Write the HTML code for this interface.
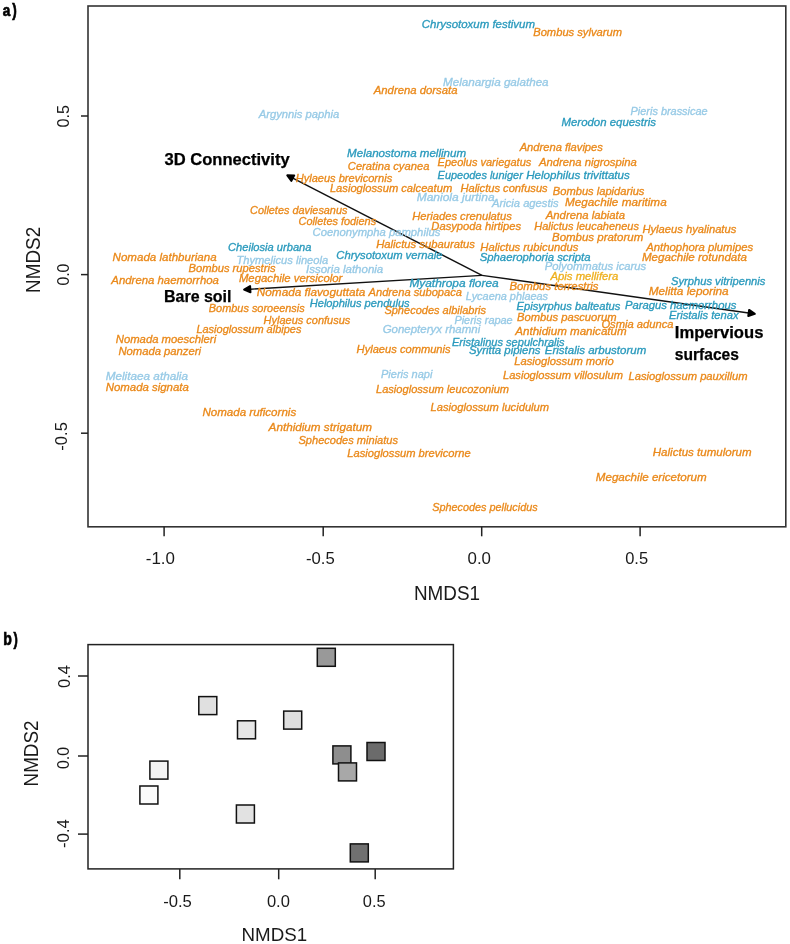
<!DOCTYPE html><html><head><meta charset="utf-8"><style>html,body{margin:0;padding:0;background:#fff}svg{display:block;will-change:transform}text{font-family:"Liberation Sans",sans-serif}</style></head><body>
<svg width="790" height="944" viewBox="0 0 790 944">
<rect width="790" height="944" fill="#fff"/>
<rect x="88" y="6" width="697.8" height="520.8" fill="none" stroke="#333" stroke-width="1.6"/>
<line x1="81" y1="116" x2="88" y2="116" stroke="#222" stroke-width="1.5"/>
<line x1="81" y1="274.6" x2="88" y2="274.6" stroke="#222" stroke-width="1.5"/>
<line x1="81" y1="433.2" x2="88" y2="433.2" stroke="#222" stroke-width="1.5"/>
<line x1="164.1" y1="526.8" x2="164.1" y2="536.3" stroke="#222" stroke-width="1.5"/>
<line x1="323.2" y1="526.8" x2="323.2" y2="536.3" stroke="#222" stroke-width="1.5"/>
<line x1="481.7" y1="526.8" x2="481.7" y2="536.3" stroke="#222" stroke-width="1.5"/>
<line x1="640.1" y1="526.8" x2="640.1" y2="536.3" stroke="#222" stroke-width="1.5"/>
<text x="145.80" y="564.00" font-size="17.3" fill="#1a1a1a" font-weight="normal" font-style="normal" textLength="29.20" lengthAdjust="spacingAndGlyphs">-1.0</text>
<text x="306.00" y="564.00" font-size="17.3" fill="#1a1a1a" font-weight="normal" font-style="normal" textLength="28.80" lengthAdjust="spacingAndGlyphs">-0.5</text>
<text x="467.50" y="564.00" font-size="17.3" fill="#1a1a1a" font-weight="normal" font-style="normal" textLength="23.50" lengthAdjust="spacingAndGlyphs">0.0</text>
<text x="625.20" y="564.00" font-size="17.3" fill="#1a1a1a" font-weight="normal" font-style="normal" textLength="22.90" lengthAdjust="spacingAndGlyphs">0.5</text>
<g transform="translate(68.50,127.50) rotate(-90)"><text x="0.00" y="0.00" font-size="17.3" fill="#1a1a1a" font-weight="normal" font-style="normal" textLength="22.50" lengthAdjust="spacingAndGlyphs">0.5</text></g>
<g transform="translate(68.60,285.60) rotate(-90)"><text x="0.00" y="0.00" font-size="17.3" fill="#1a1a1a" font-weight="normal" font-style="normal" textLength="22.00" lengthAdjust="spacingAndGlyphs">0.0</text></g>
<g transform="translate(67.00,450.70) rotate(-90)"><text x="0.00" y="0.00" font-size="17.3" fill="#1a1a1a" font-weight="normal" font-style="normal" textLength="28.70" lengthAdjust="spacingAndGlyphs">-0.5</text></g>
<text x="413.90" y="600.00" font-size="20.4" fill="#1a1a1a" font-weight="normal" font-style="normal" textLength="66.09" lengthAdjust="spacingAndGlyphs">NMDS1</text>
<g transform="translate(39.50,292.90) rotate(-90)"><text x="0.00" y="0.00" font-size="20.4" fill="#1a1a1a" font-weight="normal" font-style="normal" textLength="66.09" lengthAdjust="spacingAndGlyphs">NMDS2</text></g>
<text x="2.80" y="15.70" font-size="16.2" fill="#000" font-weight="bold" font-style="normal" textLength="7.51" lengthAdjust="spacingAndGlyphs" stroke="#000" stroke-width="0.7">a</text>
<text x="12.20" y="15.70" font-size="17.5" fill="#000" font-weight="bold" font-style="normal" textLength="4.50" lengthAdjust="spacingAndGlyphs" stroke="#000" stroke-width="0.7">)</text>
<line x1="482.0" y1="275.4" x2="292.82" y2="178.16" stroke="#111" stroke-width="1.45"/>
<polygon points="287.30,175.32 294.23,175.40 291.40,180.91" fill="#000" stroke="#000" stroke-width="2.0" stroke-linejoin="round"/>
<line x1="482.0" y1="275.4" x2="250.29" y2="289.22" stroke="#111" stroke-width="1.45"/>
<polygon points="244.10,289.59 250.10,286.13 250.47,292.32" fill="#000" stroke="#000" stroke-width="2.0" stroke-linejoin="round"/>
<line x1="482.0" y1="275.4" x2="748.68" y2="312.98" stroke="#111" stroke-width="1.45"/>
<polygon points="754.82,313.85 748.25,316.05 749.11,309.91" fill="#000" stroke="#000" stroke-width="2.0" stroke-linejoin="round"/>
<text x="421.80" y="27.95" font-size="10.3" fill="#2A9ABD" font-weight="normal" font-style="italic" textLength="113.20" lengthAdjust="spacingAndGlyphs" stroke="#2A9ABD" stroke-width="0.3">Chrysotoxum festivum</text>
<text x="533.20" y="36.45" font-size="10.3" fill="#EA891A" font-weight="normal" font-style="italic" textLength="88.80" lengthAdjust="spacingAndGlyphs" stroke="#EA891A" stroke-width="0.3">Bombus sylvarum</text>
<text x="443.00" y="86.15" font-size="10.3" fill="#97CAE6" font-weight="normal" font-style="italic" textLength="105.60" lengthAdjust="spacingAndGlyphs" stroke="#97CAE6" stroke-width="0.3">Melanargia galathea</text>
<text x="373.77" y="94.45" font-size="10.3" fill="#EA891A" font-weight="normal" font-style="italic" textLength="83.73" lengthAdjust="spacingAndGlyphs" stroke="#EA891A" stroke-width="0.3">Andrena dorsata</text>
<text x="258.76" y="117.95" font-size="10.3" fill="#97CAE6" font-weight="normal" font-style="italic" textLength="80.44" lengthAdjust="spacingAndGlyphs" stroke="#97CAE6" stroke-width="0.3">Argynnis paphia</text>
<text x="630.60" y="114.95" font-size="10.3" fill="#97CAE6" font-weight="normal" font-style="italic" textLength="77.00" lengthAdjust="spacingAndGlyphs" stroke="#97CAE6" stroke-width="0.3">Pieris brassicae</text>
<text x="561.50" y="125.85" font-size="10.3" fill="#2A9ABD" font-weight="normal" font-style="italic" textLength="94.50" lengthAdjust="spacingAndGlyphs" stroke="#2A9ABD" stroke-width="0.3">Merodon equestris</text>
<text x="519.66" y="150.75" font-size="10.3" fill="#EA891A" font-weight="normal" font-style="italic" textLength="83.24" lengthAdjust="spacingAndGlyphs" stroke="#EA891A" stroke-width="0.3">Andrena flavipes</text>
<text x="347.10" y="157.05" font-size="10.3" fill="#2A9ABD" font-weight="normal" font-style="italic" textLength="119.00" lengthAdjust="spacingAndGlyphs" stroke="#2A9ABD" stroke-width="0.3">Melanostoma mellinum</text>
<text x="437.60" y="165.85" font-size="10.3" fill="#EA891A" font-weight="normal" font-style="italic" textLength="93.70" lengthAdjust="spacingAndGlyphs" stroke="#EA891A" stroke-width="0.3">Epeolus variegatus</text>
<text x="538.96" y="165.85" font-size="10.3" fill="#EA891A" font-weight="normal" font-style="italic" textLength="97.84" lengthAdjust="spacingAndGlyphs" stroke="#EA891A" stroke-width="0.3">Andrena nigrospina</text>
<text x="347.80" y="169.65" font-size="10.3" fill="#EA891A" font-weight="normal" font-style="italic" textLength="81.60" lengthAdjust="spacingAndGlyphs" stroke="#EA891A" stroke-width="0.3">Ceratina cyanea</text>
<text x="437.60" y="178.55" font-size="10.3" fill="#2A9ABD" font-weight="normal" font-style="italic" textLength="85.22" lengthAdjust="spacingAndGlyphs" stroke="#2A9ABD" stroke-width="0.3">Eupeodes luniger</text>
<text x="526.20" y="178.55" font-size="10.3" fill="#2A9ABD" font-weight="normal" font-style="italic" textLength="103.60" lengthAdjust="spacingAndGlyphs" stroke="#2A9ABD" stroke-width="0.3">Helophilus trivittatus</text>
<text x="295.70" y="182.35" font-size="10.3" fill="#EA891A" font-weight="normal" font-style="italic" textLength="96.50" lengthAdjust="spacingAndGlyphs" stroke="#EA891A" stroke-width="0.3">Hylaeus brevicornis</text>
<text x="329.90" y="192.45" font-size="10.3" fill="#EA891A" font-weight="normal" font-style="italic" textLength="122.30" lengthAdjust="spacingAndGlyphs" stroke="#EA891A" stroke-width="0.3">Lasioglossum calceatum</text>
<text x="460.40" y="192.45" font-size="10.3" fill="#EA891A" font-weight="normal" font-style="italic" textLength="87.30" lengthAdjust="spacingAndGlyphs" stroke="#EA891A" stroke-width="0.3">Halictus confusus</text>
<text x="552.80" y="194.65" font-size="10.3" fill="#EA891A" font-weight="normal" font-style="italic" textLength="91.60" lengthAdjust="spacingAndGlyphs" stroke="#EA891A" stroke-width="0.3">Bombus lapidarius</text>
<text x="416.70" y="200.55" font-size="10.3" fill="#97CAE6" font-weight="normal" font-style="italic" textLength="77.91" lengthAdjust="spacingAndGlyphs" stroke="#97CAE6" stroke-width="0.3">Maniola jurtina</text>
<text x="492.06" y="207.15" font-size="10.3" fill="#97CAE6" font-weight="normal" font-style="italic" textLength="66.54" lengthAdjust="spacingAndGlyphs" stroke="#97CAE6" stroke-width="0.3">Aricia agestis</text>
<text x="564.90" y="205.75" font-size="10.3" fill="#EA891A" font-weight="normal" font-style="italic" textLength="101.79" lengthAdjust="spacingAndGlyphs" stroke="#EA891A" stroke-width="0.3">Megachile maritima</text>
<text x="250.10" y="214.05" font-size="10.3" fill="#EA891A" font-weight="normal" font-style="italic" textLength="97.30" lengthAdjust="spacingAndGlyphs" stroke="#EA891A" stroke-width="0.3">Colletes daviesanus</text>
<text x="412.20" y="219.55" font-size="10.3" fill="#EA891A" font-weight="normal" font-style="italic" textLength="99.60" lengthAdjust="spacingAndGlyphs" stroke="#EA891A" stroke-width="0.3">Heriades crenulatus</text>
<text x="545.77" y="219.05" font-size="10.3" fill="#EA891A" font-weight="normal" font-style="italic" textLength="79.24" lengthAdjust="spacingAndGlyphs" stroke="#EA891A" stroke-width="0.3">Andrena labiata</text>
<text x="298.50" y="224.95" font-size="10.3" fill="#EA891A" font-weight="normal" font-style="italic" textLength="77.60" lengthAdjust="spacingAndGlyphs" stroke="#EA891A" stroke-width="0.3">Colletes fodiens</text>
<text x="431.30" y="229.65" font-size="10.3" fill="#EA891A" font-weight="normal" font-style="italic" textLength="89.80" lengthAdjust="spacingAndGlyphs" stroke="#EA891A" stroke-width="0.3">Dasypoda hirtipes</text>
<text x="534.30" y="230.15" font-size="10.3" fill="#EA891A" font-weight="normal" font-style="italic" textLength="104.60" lengthAdjust="spacingAndGlyphs" stroke="#EA891A" stroke-width="0.3">Halictus leucaheneus</text>
<text x="642.40" y="232.95" font-size="10.3" fill="#EA891A" font-weight="normal" font-style="italic" textLength="93.90" lengthAdjust="spacingAndGlyphs" stroke="#EA891A" stroke-width="0.3">Hylaeus hyalinatus</text>
<text x="312.60" y="236.45" font-size="10.3" fill="#97CAE6" font-weight="normal" font-style="italic" textLength="127.70" lengthAdjust="spacingAndGlyphs" stroke="#97CAE6" stroke-width="0.3">Coenonympha pamphilus</text>
<text x="552.00" y="240.75" font-size="10.3" fill="#EA891A" font-weight="normal" font-style="italic" textLength="91.20" lengthAdjust="spacingAndGlyphs" stroke="#EA891A" stroke-width="0.3">Bombus pratorum</text>
<text x="228.00" y="251.05" font-size="10.3" fill="#2A9ABD" font-weight="normal" font-style="italic" textLength="83.50" lengthAdjust="spacingAndGlyphs" stroke="#2A9ABD" stroke-width="0.3">Cheilosia urbana</text>
<text x="376.20" y="248.15" font-size="10.3" fill="#EA891A" font-weight="normal" font-style="italic" textLength="98.80" lengthAdjust="spacingAndGlyphs" stroke="#EA891A" stroke-width="0.3">Halictus subauratus</text>
<text x="480.30" y="250.65" font-size="10.3" fill="#EA891A" font-weight="normal" font-style="italic" textLength="98.00" lengthAdjust="spacingAndGlyphs" stroke="#EA891A" stroke-width="0.3">Halictus rubicundus</text>
<text x="646.27" y="250.95" font-size="10.3" fill="#EA891A" font-weight="normal" font-style="italic" textLength="107.03" lengthAdjust="spacingAndGlyphs" stroke="#EA891A" stroke-width="0.3">Anthophora plumipes</text>
<text x="336.30" y="258.65" font-size="10.3" fill="#2A9ABD" font-weight="normal" font-style="italic" textLength="106.20" lengthAdjust="spacingAndGlyphs" stroke="#2A9ABD" stroke-width="0.3">Chrysotoxum vernale</text>
<text x="479.70" y="260.75" font-size="10.3" fill="#2A9ABD" font-weight="normal" font-style="italic" textLength="110.90" lengthAdjust="spacingAndGlyphs" stroke="#2A9ABD" stroke-width="0.3">Sphaerophoria scripta</text>
<text x="641.90" y="261.25" font-size="10.3" fill="#EA891A" font-weight="normal" font-style="italic" textLength="105.10" lengthAdjust="spacingAndGlyphs" stroke="#EA891A" stroke-width="0.3">Megachile rotundata</text>
<text x="112.60" y="261.45" font-size="10.3" fill="#EA891A" font-weight="normal" font-style="italic" textLength="104.00" lengthAdjust="spacingAndGlyphs" stroke="#EA891A" stroke-width="0.3">Nomada lathburiana</text>
<text x="236.40" y="263.55" font-size="10.3" fill="#97CAE6" font-weight="normal" font-style="italic" textLength="91.80" lengthAdjust="spacingAndGlyphs" stroke="#97CAE6" stroke-width="0.3">Thymelicus lineola</text>
<text x="188.50" y="271.55" font-size="10.3" fill="#EA891A" font-weight="normal" font-style="italic" textLength="87.00" lengthAdjust="spacingAndGlyphs" stroke="#EA891A" stroke-width="0.3">Bombus rupestris</text>
<text x="306.00" y="272.85" font-size="10.3" fill="#97CAE6" font-weight="normal" font-style="italic" textLength="77.20" lengthAdjust="spacingAndGlyphs" stroke="#97CAE6" stroke-width="0.3">Issoria lathonia</text>
<text x="544.80" y="270.35" font-size="10.3" fill="#97CAE6" font-weight="normal" font-style="italic" textLength="101.40" lengthAdjust="spacingAndGlyphs" stroke="#97CAE6" stroke-width="0.3">Polyommatus icarus</text>
<text x="550.47" y="279.55" font-size="10.3" fill="#EEB01E" font-weight="normal" font-style="italic" textLength="67.93" lengthAdjust="spacingAndGlyphs" stroke="#EEB01E" stroke-width="0.3">Apis mellifera</text>
<text x="671.00" y="284.75" font-size="10.3" fill="#2A9ABD" font-weight="normal" font-style="italic" textLength="94.40" lengthAdjust="spacingAndGlyphs" stroke="#2A9ABD" stroke-width="0.3">Syrphus vitripennis</text>
<text x="111.37" y="284.25" font-size="10.3" fill="#EA891A" font-weight="normal" font-style="italic" textLength="107.53" lengthAdjust="spacingAndGlyphs" stroke="#EA891A" stroke-width="0.3">Andrena haemorrhoa</text>
<text x="238.90" y="281.65" font-size="10.3" fill="#EA891A" font-weight="normal" font-style="italic" textLength="103.41" lengthAdjust="spacingAndGlyphs" stroke="#EA891A" stroke-width="0.3">Megachile versicolor</text>
<text x="409.40" y="287.35" font-size="10.3" fill="#2A9ABD" font-weight="normal" font-style="italic" textLength="89.30" lengthAdjust="spacingAndGlyphs" stroke="#2A9ABD" stroke-width="0.3">Myathropa florea</text>
<text x="509.40" y="290.35" font-size="10.3" fill="#EA891A" font-weight="normal" font-style="italic" textLength="89.09" lengthAdjust="spacingAndGlyphs" stroke="#EA891A" stroke-width="0.3">Bombus terrestris</text>
<text x="648.70" y="294.85" font-size="10.3" fill="#EA891A" font-weight="normal" font-style="italic" textLength="80.00" lengthAdjust="spacingAndGlyphs" stroke="#EA891A" stroke-width="0.3">Melitta leporina</text>
<text x="256.80" y="296.05" font-size="10.3" fill="#EA891A" font-weight="normal" font-style="italic" textLength="108.60" lengthAdjust="spacingAndGlyphs" stroke="#EA891A" stroke-width="0.3">Nomada flavoguttata</text>
<text x="368.56" y="296.15" font-size="10.3" fill="#EA891A" font-weight="normal" font-style="italic" textLength="93.44" lengthAdjust="spacingAndGlyphs" stroke="#EA891A" stroke-width="0.3">Andrena subopaca</text>
<text x="465.80" y="299.95" font-size="10.3" fill="#97CAE6" font-weight="normal" font-style="italic" textLength="82.29" lengthAdjust="spacingAndGlyphs" stroke="#97CAE6" stroke-width="0.3">Lycaena phlaeas</text>
<text x="624.90" y="308.85" font-size="10.3" fill="#2A9ABD" font-weight="normal" font-style="italic" textLength="111.40" lengthAdjust="spacingAndGlyphs" stroke="#2A9ABD" stroke-width="0.3">Paragus haemorrhous</text>
<text x="208.80" y="311.95" font-size="10.3" fill="#EA891A" font-weight="normal" font-style="italic" textLength="95.90" lengthAdjust="spacingAndGlyphs" stroke="#EA891A" stroke-width="0.3">Bombus soroeensis</text>
<text x="309.70" y="306.65" font-size="10.3" fill="#2A9ABD" font-weight="normal" font-style="italic" textLength="100.00" lengthAdjust="spacingAndGlyphs" stroke="#2A9ABD" stroke-width="0.3">Helophilus pendulus</text>
<text x="384.40" y="314.25" font-size="10.3" fill="#EA891A" font-weight="normal" font-style="italic" textLength="101.70" lengthAdjust="spacingAndGlyphs" stroke="#EA891A" stroke-width="0.3">Sphecodes albilabris</text>
<text x="516.50" y="309.65" font-size="10.3" fill="#2A9ABD" font-weight="normal" font-style="italic" textLength="103.90" lengthAdjust="spacingAndGlyphs" stroke="#2A9ABD" stroke-width="0.3">Episyrphus balteatus</text>
<text x="669.00" y="318.95" font-size="10.3" fill="#2A9ABD" font-weight="normal" font-style="italic" textLength="69.56" lengthAdjust="spacingAndGlyphs" stroke="#2A9ABD" stroke-width="0.3">Eristalis tenax</text>
<text x="454.40" y="323.95" font-size="10.3" fill="#97CAE6" font-weight="normal" font-style="italic" textLength="58.30" lengthAdjust="spacingAndGlyphs" stroke="#97CAE6" stroke-width="0.3">Pieris rapae</text>
<text x="517.00" y="320.65" font-size="10.3" fill="#EA891A" font-weight="normal" font-style="italic" textLength="99.60" lengthAdjust="spacingAndGlyphs" stroke="#EA891A" stroke-width="0.3">Bombus pascuorum</text>
<text x="601.40" y="327.75" font-size="10.3" fill="#EA891A" font-weight="normal" font-style="italic" textLength="72.10" lengthAdjust="spacingAndGlyphs" stroke="#EA891A" stroke-width="0.3">Osmia adunca</text>
<text x="263.60" y="323.95" font-size="10.3" fill="#EA891A" font-weight="normal" font-style="italic" textLength="86.70" lengthAdjust="spacingAndGlyphs" stroke="#EA891A" stroke-width="0.3">Hylaeus confusus</text>
<text x="515.28" y="335.35" font-size="10.3" fill="#EA891A" font-weight="normal" font-style="italic" textLength="111.42" lengthAdjust="spacingAndGlyphs" stroke="#EA891A" stroke-width="0.3">Anthidium manicatum</text>
<text x="196.40" y="333.25" font-size="10.3" fill="#EA891A" font-weight="normal" font-style="italic" textLength="105.00" lengthAdjust="spacingAndGlyphs" stroke="#EA891A" stroke-width="0.3">Lasioglossum albipes</text>
<text x="382.70" y="333.05" font-size="10.3" fill="#97CAE6" font-weight="normal" font-style="italic" textLength="97.54" lengthAdjust="spacingAndGlyphs" stroke="#97CAE6" stroke-width="0.3">Gonepteryx rhamni</text>
<text x="115.80" y="343.45" font-size="10.3" fill="#EA891A" font-weight="normal" font-style="italic" textLength="100.35" lengthAdjust="spacingAndGlyphs" stroke="#EA891A" stroke-width="0.3">Nomada moeschleri</text>
<text x="451.90" y="345.55" font-size="10.3" fill="#2A9ABD" font-weight="normal" font-style="italic" textLength="112.70" lengthAdjust="spacingAndGlyphs" stroke="#2A9ABD" stroke-width="0.3">Eristalinus sepulchralis</text>
<text x="514.30" y="364.95" font-size="10.3" fill="#EA891A" font-weight="normal" font-style="italic" textLength="99.50" lengthAdjust="spacingAndGlyphs" stroke="#EA891A" stroke-width="0.3">Lasioglossum morio</text>
<text x="118.40" y="354.85" font-size="10.3" fill="#EA891A" font-weight="normal" font-style="italic" textLength="82.55" lengthAdjust="spacingAndGlyphs" stroke="#EA891A" stroke-width="0.3">Nomada panzeri</text>
<text x="356.60" y="353.45" font-size="10.3" fill="#EA891A" font-weight="normal" font-style="italic" textLength="94.00" lengthAdjust="spacingAndGlyphs" stroke="#EA891A" stroke-width="0.3">Hylaeus communis</text>
<text x="468.90" y="353.85" font-size="10.3" fill="#2A9ABD" font-weight="normal" font-style="italic" textLength="71.60" lengthAdjust="spacingAndGlyphs" stroke="#2A9ABD" stroke-width="0.3">Syritta pipiens</text>
<text x="544.80" y="354.05" font-size="10.3" fill="#2A9ABD" font-weight="normal" font-style="italic" textLength="101.40" lengthAdjust="spacingAndGlyphs" stroke="#2A9ABD" stroke-width="0.3">Eristalis arbustorum</text>
<text x="503.00" y="378.85" font-size="10.3" fill="#EA891A" font-weight="normal" font-style="italic" textLength="119.90" lengthAdjust="spacingAndGlyphs" stroke="#EA891A" stroke-width="0.3">Lasioglossum villosulum</text>
<text x="628.50" y="380.35" font-size="10.3" fill="#EA891A" font-weight="normal" font-style="italic" textLength="119.00" lengthAdjust="spacingAndGlyphs" stroke="#EA891A" stroke-width="0.3">Lasioglossum pauxillum</text>
<text x="381.00" y="377.75" font-size="10.3" fill="#97CAE6" font-weight="normal" font-style="italic" textLength="51.45" lengthAdjust="spacingAndGlyphs" stroke="#97CAE6" stroke-width="0.3">Pieris napi</text>
<text x="105.70" y="380.05" font-size="10.3" fill="#97CAE6" font-weight="normal" font-style="italic" textLength="82.31" lengthAdjust="spacingAndGlyphs" stroke="#97CAE6" stroke-width="0.3">Melitaea athalia</text>
<text x="105.70" y="390.95" font-size="10.3" fill="#EA891A" font-weight="normal" font-style="italic" textLength="83.10" lengthAdjust="spacingAndGlyphs" stroke="#EA891A" stroke-width="0.3">Nomada signata</text>
<text x="376.00" y="393.25" font-size="10.3" fill="#EA891A" font-weight="normal" font-style="italic" textLength="133.10" lengthAdjust="spacingAndGlyphs" stroke="#EA891A" stroke-width="0.3">Lasioglossum leucozonium</text>
<text x="430.60" y="410.55" font-size="10.3" fill="#EA891A" font-weight="normal" font-style="italic" textLength="118.50" lengthAdjust="spacingAndGlyphs" stroke="#EA891A" stroke-width="0.3">Lasioglossum lucidulum</text>
<text x="202.40" y="415.95" font-size="10.3" fill="#EA891A" font-weight="normal" font-style="italic" textLength="93.80" lengthAdjust="spacingAndGlyphs" stroke="#EA891A" stroke-width="0.3">Nomada ruficornis</text>
<text x="268.58" y="430.85" font-size="10.3" fill="#EA891A" font-weight="normal" font-style="italic" textLength="103.32" lengthAdjust="spacingAndGlyphs" stroke="#EA891A" stroke-width="0.3">Anthidium strigatum</text>
<text x="298.50" y="444.15" font-size="10.3" fill="#EA891A" font-weight="normal" font-style="italic" textLength="99.50" lengthAdjust="spacingAndGlyphs" stroke="#EA891A" stroke-width="0.3">Sphecodes miniatus</text>
<text x="347.30" y="456.75" font-size="10.3" fill="#EA891A" font-weight="normal" font-style="italic" textLength="123.30" lengthAdjust="spacingAndGlyphs" stroke="#EA891A" stroke-width="0.3">Lasioglossum brevicorne</text>
<text x="652.80" y="455.55" font-size="10.3" fill="#EA891A" font-weight="normal" font-style="italic" textLength="98.70" lengthAdjust="spacingAndGlyphs" stroke="#EA891A" stroke-width="0.3">Halictus tumulorum</text>
<text x="595.80" y="481.35" font-size="10.3" fill="#EA891A" font-weight="normal" font-style="italic" textLength="110.90" lengthAdjust="spacingAndGlyphs" stroke="#EA891A" stroke-width="0.3">Megachile ericetorum</text>
<text x="432.20" y="510.55" font-size="10.3" fill="#EA891A" font-weight="normal" font-style="italic" textLength="105.50" lengthAdjust="spacingAndGlyphs" stroke="#EA891A" stroke-width="0.3">Sphecodes pellucidus</text>
<text x="164.50" y="164.70" font-size="15.9" fill="#000" font-weight="bold" font-style="normal" textLength="125.10" lengthAdjust="spacingAndGlyphs" stroke="#000" stroke-width="0.25">3D Connectivity</text>
<text x="164.00" y="302.00" font-size="15.9" fill="#000" font-weight="bold" font-style="normal" textLength="67.50" lengthAdjust="spacingAndGlyphs" stroke="#000" stroke-width="0.25">Bare soil</text>
<text x="674.80" y="338.20" font-size="15.9" fill="#000" font-weight="bold" font-style="normal" textLength="88.60" lengthAdjust="spacingAndGlyphs" stroke="#000" stroke-width="0.25">Impervious</text>
<text x="674.80" y="359.50" font-size="15.9" fill="#000" font-weight="bold" font-style="normal" textLength="64.10" lengthAdjust="spacingAndGlyphs" stroke="#000" stroke-width="0.25">surfaces</text>
<text x="3.30" y="645.00" font-size="17.5" fill="#000" font-weight="bold" font-style="normal" textLength="8.60" lengthAdjust="spacingAndGlyphs" stroke="#000" stroke-width="0.7">b</text>
<text x="13.40" y="645.00" font-size="17.5" fill="#000" font-weight="bold" font-style="normal" textLength="4.30" lengthAdjust="spacingAndGlyphs" stroke="#000" stroke-width="0.7">)</text>
<rect x="88" y="644.6" width="365.4" height="224.3" fill="none" stroke="#222" stroke-width="1.5"/>
<line x1="78" y1="676.0" x2="88" y2="676.0" stroke="#222" stroke-width="1.5"/>
<line x1="78" y1="756.0" x2="88" y2="756.0" stroke="#222" stroke-width="1.5"/>
<line x1="78" y1="834.1" x2="88" y2="834.1" stroke="#222" stroke-width="1.5"/>
<line x1="179.8" y1="868.9" x2="179.8" y2="879.3" stroke="#222" stroke-width="1.5"/>
<line x1="278.7" y1="868.9" x2="278.7" y2="879.3" stroke="#222" stroke-width="1.5"/>
<line x1="375.2" y1="868.9" x2="375.2" y2="879.3" stroke="#222" stroke-width="1.5"/>
<g transform="translate(70.40,688.00) rotate(-90)"><text x="0.00" y="0.00" font-size="17.3" fill="#1a1a1a" font-weight="normal" font-style="normal" textLength="23.00" lengthAdjust="spacingAndGlyphs">0.4</text></g>
<g transform="translate(68.70,769.10) rotate(-90)"><text x="0.00" y="0.00" font-size="17.3" fill="#1a1a1a" font-weight="normal" font-style="normal" textLength="22.20" lengthAdjust="spacingAndGlyphs">0.0</text></g>
<g transform="translate(68.80,848.00) rotate(-90)"><text x="0.00" y="0.00" font-size="17.3" fill="#1a1a1a" font-weight="normal" font-style="normal" textLength="28.90" lengthAdjust="spacingAndGlyphs">-0.4</text></g>
<text x="163.20" y="907.00" font-size="17.3" fill="#1a1a1a" font-weight="normal" font-style="normal" textLength="28.70" lengthAdjust="spacingAndGlyphs">-0.5</text>
<text x="266.90" y="907.00" font-size="17.3" fill="#1a1a1a" font-weight="normal" font-style="normal" textLength="23.00" lengthAdjust="spacingAndGlyphs">0.0</text>
<text x="362.80" y="907.00" font-size="17.3" fill="#1a1a1a" font-weight="normal" font-style="normal" textLength="22.80" lengthAdjust="spacingAndGlyphs">0.5</text>
<text x="241.60" y="941.30" font-size="19.1" fill="#1a1a1a" font-weight="normal" font-style="normal" textLength="65.59" lengthAdjust="spacingAndGlyphs">NMDS1</text>
<g transform="translate(38.30,786.50) rotate(-90)"><text x="0.00" y="0.00" font-size="20.4" fill="#1a1a1a" font-weight="normal" font-style="normal" textLength="66.09" lengthAdjust="spacingAndGlyphs">NMDS2</text></g>
<rect x="317.30" y="648.30" width="18" height="18" fill="#999999" stroke="#111" stroke-width="1.5"/>
<rect x="198.80" y="696.60" width="18" height="18" fill="#e0e0e0" stroke="#111" stroke-width="1.5"/>
<rect x="237.50" y="720.80" width="18" height="18" fill="#e6e6e6" stroke="#111" stroke-width="1.5"/>
<rect x="283.70" y="711.10" width="18" height="18" fill="#dedede" stroke="#111" stroke-width="1.5"/>
<rect x="149.90" y="761.10" width="18" height="18" fill="#f3f3f3" stroke="#111" stroke-width="1.5"/>
<rect x="139.90" y="786.00" width="18" height="18" fill="#fbfbfb" stroke="#111" stroke-width="1.5"/>
<rect x="236.40" y="805.00" width="18" height="18" fill="#e2e2e2" stroke="#111" stroke-width="1.5"/>
<rect x="332.90" y="745.90" width="18" height="18" fill="#8e8e8e" stroke="#111" stroke-width="1.5"/>
<rect x="338.50" y="762.90" width="18" height="18" fill="#a8a8a8" stroke="#111" stroke-width="1.5"/>
<rect x="367.00" y="742.50" width="18" height="18" fill="#6b6b6b" stroke="#111" stroke-width="1.5"/>
<rect x="350.30" y="843.90" width="18" height="18" fill="#707070" stroke="#111" stroke-width="1.5"/>
</svg></body></html>
